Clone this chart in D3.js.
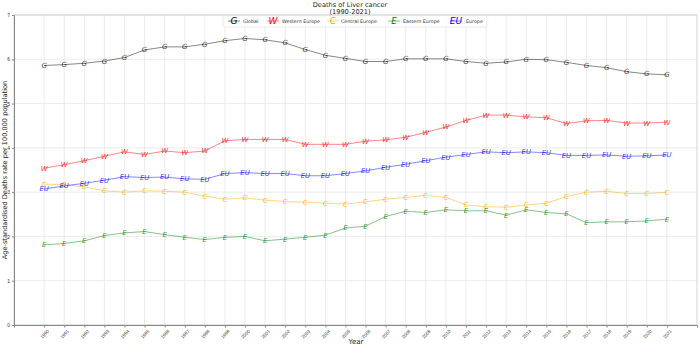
<!DOCTYPE html>
<html><head><meta charset="utf-8">
<script src="https://cdn.jsdelivr.net/npm/d3@7"></script>
<style>
html,body{margin:0;padding:0;background:#fff;}
svg{display:block;font-family:"DejaVu Sans",sans-serif;}
</style></head>
<body><svg id="chart" width="700" height="346"></svg>
<script>
const years = d3.range(1990, 2022);
const yTicks = [0,1,2,3,4,5,6,7];
const seriesNames = ["Global","Western Europe","Central Europe","Eastern Europe","Europe"];
const markers = ["G","W","C","E","EU"];
const colors = ["#000000","#ff0000","#ffa500","#008000","#0000ff"];
const globalVals = [5.86,5.88,5.91,5.96,6.04,6.21,6.28,6.28,6.34,6.42,6.47,6.44,6.37,6.22,6.09,6.02,5.95,5.95,6.01,6.01,6.01,5.95,5.91,5.94,6.00,5.99,5.93,5.86,5.81,5.72,5.67,5.65];
const westernVals = [3.54,3.62,3.71,3.81,3.91,3.85,3.93,3.89,3.93,4.16,4.19,4.19,4.19,4.08,4.08,4.08,4.15,4.18,4.24,4.35,4.47,4.62,4.74,4.74,4.70,4.68,4.55,4.61,4.62,4.56,4.56,4.58];
const centralVals = [3.18,3.17,3.12,3.03,3.00,3.03,3.02,3.00,2.91,2.84,2.87,2.82,2.79,2.77,2.75,2.73,2.78,2.84,2.88,2.93,2.88,2.71,2.67,2.66,2.71,2.75,2.90,3.00,3.02,2.97,2.97,3.00];
const easternVals = [1.81,1.84,1.90,2.02,2.08,2.11,2.04,1.98,1.93,1.98,2.00,1.90,1.94,1.98,2.03,2.19,2.23,2.45,2.57,2.54,2.60,2.58,2.58,2.48,2.60,2.54,2.51,2.31,2.33,2.33,2.35,2.39];
const europeVals = [3.07,3.14,3.20,3.27,3.35,3.33,3.34,3.30,3.29,3.42,3.44,3.42,3.42,3.37,3.37,3.42,3.48,3.56,3.63,3.71,3.79,3.85,3.91,3.89,3.91,3.89,3.83,3.83,3.84,3.81,3.82,3.84];
const allVals = [globalVals, westernVals, centralVals, easternVals, europeVals];

const svg = d3.select("#chart");
const L = 14, R = 697, T = 15, B = 325;
const x = d3.scalePoint().domain(years).range([L, R]).padding(1.5);
const y = d3.scaleLinear().domain([0, 7]).range([B, T]);

// grid
const g = svg.append("g");
g.selectAll(".vg").data(years).join("line")
  .attr("x1", d => x(d)).attr("x2", d => x(d)).attr("y1", T).attr("y2", B)
  .attr("stroke", "#e3e3e3").attr("stroke-width", 0.7);
g.selectAll(".hg").data(yTicks).join("line")
  .attr("x1", L).attr("x2", R).attr("y1", d => y(d)).attr("y2", d => y(d))
  .attr("stroke", "#e3e3e3").attr("stroke-width", 0.7);

// frame
svg.append("rect").attr("x", L).attr("y", T).attr("width", R - L).attr("height", B - T)
  .attr("fill", "none").attr("stroke", "#c4c4c4").attr("stroke-width", 0.7);

// axes
const xAxis = svg.append("g").attr("transform", `translate(0,${B})`)
  .call(d3.axisBottom(x).tickSize(2.5).tickPadding(2));
xAxis.select(".domain").attr("stroke", "#888");
xAxis.selectAll(".tick line").attr("stroke", "#888");
xAxis.selectAll("text").attr("font-size", 4.5).attr("fill", "#333")
  .attr("text-anchor", "middle").attr("y", 0).attr("dy", "0.35em")
  .attr("transform", "translate(0,9) rotate(-45)");

const yAxis = svg.append("g").attr("transform", `translate(${L},0)`)
  .call(d3.axisLeft(y).tickValues(yTicks).tickFormat(d3.format("d")).tickSize(2).tickPadding(2));
yAxis.select(".domain").attr("stroke", "#888");
yAxis.selectAll(".tick line").attr("stroke", "#888");
yAxis.selectAll("text").attr("font-size", 5).attr("fill", "#333");

// axis labels
svg.append("text").attr("x", 356).attr("y", 344).attr("text-anchor", "middle")
  .attr("font-size", 7).attr("fill", "#222").text("Year");
svg.append("text").attr("transform", `translate(7,${(T + B) / 2}) rotate(-90)`)
  .attr("text-anchor", "middle").attr("font-size", 6.6).attr("fill", "#222")
  .text("Age-standardised Deaths rate per 100,000 population");

// title
svg.append("text").attr("x", 350).attr("y", 7).attr("text-anchor", "middle")
  .attr("font-size", 6.6).attr("fill", "#222").text("Deaths of Liver cancer");
svg.append("text").attr("x", 350).attr("y", 14).attr("text-anchor", "middle")
  .attr("font-size", 6.6).attr("fill", "#222").text("(1990-2021)");

// series
const line = d3.line().x((d, i) => x(years[i])).y(d => y(d));
allVals.forEach((vals, s) => {
  svg.append("path").datum(vals).attr("d", line).attr("fill", "none")
    .attr("stroke", colors[s]).attr("stroke-opacity", 0.6).attr("stroke-width", 0.8);
  svg.append("g").selectAll("text").data(vals).join("text")
    .attr("x", (d, i) => x(years[i])).attr("y", d => y(d))
    .attr("dy", "0.35em").attr("text-anchor", "middle")
    .attr("font-size", s === 4 ? 6.8 : 7).attr("font-style", "italic")
    .attr("fill", colors[s]).attr("fill-opacity", 0.8)
    .text(markers[s]);
});

// legend
const legendX = [234, 273, 333, 394, 456];
const legendTextX = [243, 282, 341, 403, 466];
const ly = 21;
svg.append("rect").attr("x", 223).attr("y", 15.5).attr("width", 264).attr("height", 11.5)
  .attr("rx", 1.5).attr("fill", "#fff").attr("fill-opacity", 0.8)
  .attr("stroke", "#dcdcdc").attr("stroke-width", 0.6);
seriesNames.forEach((name, s) => {
  svg.append("line").attr("x1", legendX[s] - 6).attr("x2", legendX[s] + 6)
    .attr("y1", ly).attr("y2", ly).attr("stroke", colors[s])
    .attr("stroke-opacity", 0.6).attr("stroke-width", 0.8);
  svg.append("text").attr("x", legendX[s]).attr("y", ly).attr("dy", "0.35em")
    .attr("text-anchor", "middle").attr("font-size", 9).attr("font-style", "italic")
    .attr("fill", colors[s]).text(markers[s]);
  svg.append("text").attr("x", legendTextX[s]).attr("y", ly).attr("dy", "0.35em")
    .attr("font-size", 4.8).attr("fill", "#333").text(name);
});
</script>
</body></html>
